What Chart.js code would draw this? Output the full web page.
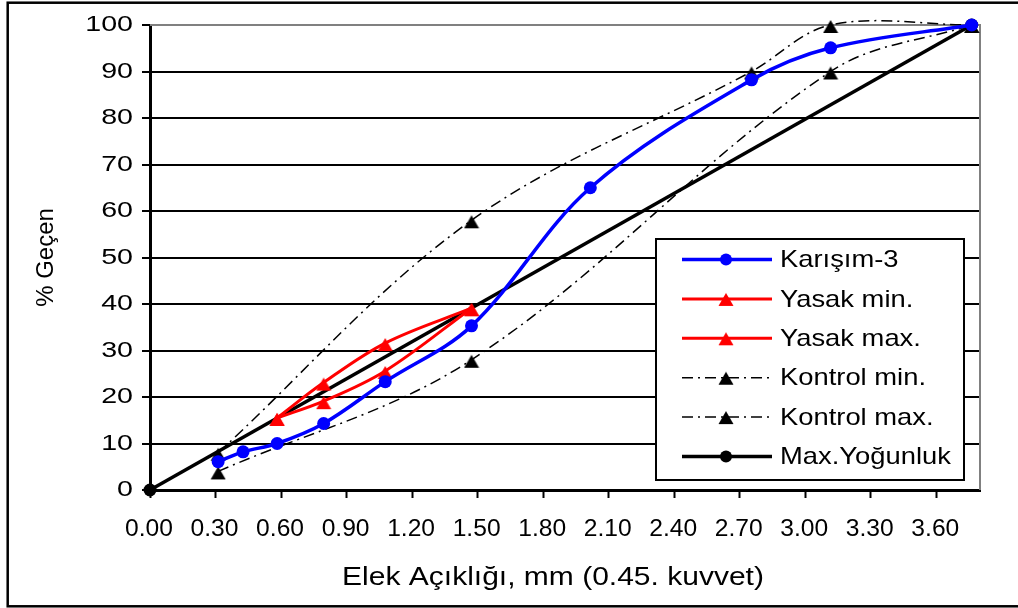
<!DOCTYPE html>
<html>
<head>
<meta charset="utf-8">
<script src="https://cdn.jsdelivr.net/npm/chart.js@4.4.1/dist/chart.umd.min.js"></script>
<style>
  html, body { margin: 0; padding: 0; background: #ffffff; }
  #wrap { width: 1018px; height: 608px; position: relative; }
</style>
</head>
<body>
<div id="wrap"><canvas id="c" width="1018" height="608"></canvas></div>
<script>
// Sieve openings on the 0.45-power scale and percent passing
const karisimX = [0.312, 0.426, 0.582, 0.795, 1.077, 1.472, 2.016, 2.754, 3.116, 3.762];
const karisim3 = [6.1, 8.2, 10.0, 14.3, 23.3, 35.3, 65.0, 88.2, 95.1, 100];

const yasakX = [0.582, 0.795, 1.077, 1.472];
const yasakMin = [15.5, 19.1, 25.6, 39.1];
const yasakMax = [15.5, 23.1, 31.6, 39.1];

const kontrolMinX = [0.312, 1.472, 3.116, 3.762];
const kontrolMin = [4, 28, 90, 100];
const kontrolMaxX = [0.312, 1.472, 2.754, 3.116, 3.762];
const kontrolMax = [8, 58, 90, 100, 100];

const maxYogunlukX = [0, 3.762];
const maxYogunluk = [0, 100];

const xTicks = [0, 0.3, 0.6, 0.9, 1.2, 1.5, 1.8, 2.1, 2.4, 2.7, 3.0, 3.3, 3.6];
const yTicks = [0, 10, 20, 30, 40, 50, 60, 70, 80, 90, 100];

const xTitle = 'Elek Açıklığı, mm (0.45. kuvvet)';
const yTitle = '% Geçen';

const FONT = '"Liberation Sans", Arial, sans-serif';
const BLUE = '#0000ff';
const RED = '#ff0000';
const BLACK = '#000000';
const DASHDOT = [11, 5, 2, 5];

function pts(xs, ys) { return xs.map((x, i) => ({ x: x, y: ys[i] })); }

// Triangle marker sprite, sitting a little low in its box
function triangleSprite(color) {
  const c = document.createElement('canvas');
  c.width = 16; c.height = 18;
  const g = c.getContext('2d');
  g.fillStyle = color;
  g.beginPath();
  g.moveTo(8, 4);
  g.lineTo(15.5, 17);
  g.lineTo(0.5, 17);
  g.closePath();
  g.fill();
  return c;
}
const redTri = triangleSprite(RED);
const blackTri = triangleSprite(BLACK);

const datasets = [
  { label: 'Karışım-3', data: pts(karisimX, karisim3), borderColor: BLUE, borderWidth: 3.5,
    pointStyle: 'circle', pointRadius: 6.5, pointBackgroundColor: BLUE, pointBorderWidth: 0,
    tension: 0.35, marker: 'circle', dash: [] },
  { label: 'Yasak min.', data: pts(yasakX, yasakMin), borderColor: RED, borderWidth: 3,
    pointStyle: redTri, pointBackgroundColor: RED, tension: 0.35, marker: 'triangle', dash: [] },
  { label: 'Yasak max.', data: pts(yasakX, yasakMax), borderColor: RED, borderWidth: 3,
    pointStyle: redTri, pointBackgroundColor: RED, tension: 0.35, marker: 'triangle', dash: [] },
  { label: 'Kontrol min.', data: pts(kontrolMinX, kontrolMin), borderColor: BLACK, borderWidth: 1.5,
    borderDash: DASHDOT, pointStyle: blackTri, pointBackgroundColor: BLACK, tension: 0.35,
    marker: 'triangle', dash: DASHDOT },
  { label: 'Kontrol max.', data: pts(kontrolMaxX, kontrolMax), borderColor: BLACK, borderWidth: 1.5,
    borderDash: DASHDOT, pointStyle: blackTri, pointBackgroundColor: BLACK, tension: 0.35,
    marker: 'triangle', dash: DASHDOT },
  { label: 'Max.Yoğunluk', data: pts(maxYogunlukX, maxYogunluk), borderColor: BLACK, borderWidth: 3.5,
    pointStyle: 'circle', pointRadius: 6.5, pointBackgroundColor: BLACK, pointBorderWidth: 0,
    tension: 0, marker: 'circle', dash: [] }
];
datasets.forEach(d => { d.clip = false; d.fill = false; d.pointHoverRadius = d.pointRadius; });

// Wraps a scale's text drawing with a horizontal stretch about an anchor x
function styleText(scale, method, sx, anchorFn, shift) {
  const orig = scale[method];
  scale[method] = function () {
    const c = this.ctx;
    c.save();
    const ax = anchorFn(this);
    c.translate(ax + (shift || 0), 0);
    c.scale(sx, 1);
    c.translate(-ax, 0);
    orig.apply(this, arguments);
    c.restore();
  };
}

const decor = {
  id: 'decor',
  afterUpdate(chart) {
    const x = chart.scales.x, y = chart.scales.y;
    if (!x._styled) {
      styleText(x, 'drawTitle', 1.2, s => (s.left + s.right) / 2, -12);
      x._styled = true;
    }
    if (!y._styled) {
      styleText(y, 'drawLabels', 1.3, s => s.right - 8 - 9, 0);
      y._styled = true;
    }
  },
  beforeDatasetsDraw(chart) {
    const { ctx, chartArea: a } = chart;
    ctx.save();
    ctx.strokeStyle = '#808080';
    ctx.lineWidth = 2;
    ctx.beginPath();
    ctx.moveTo(a.left, a.top);
    ctx.lineTo(a.right, a.top);
    ctx.lineTo(a.right, a.bottom);
    ctx.stroke();
    ctx.restore();
  },
  afterDraw(chart) {
    const { ctx, chartArea: a } = chart;
    const xs = chart.scales.x;
    ctx.save();
    // x tick labels, slightly stretched
    ctx.font = '23px ' + FONT;
    ctx.fillStyle = BLACK;
    ctx.textAlign = 'center';
    ctx.textBaseline = 'alphabetic';
    xTicks.forEach(v => {
      const px = xs.getPixelForValue(v);
      ctx.save();
      ctx.translate(px - 1, a.bottom + 46);
      ctx.scale(1.07, 1);
      ctx.fillText(v.toFixed(2), 0, 0);
      ctx.restore();
    });
    // legend box
    const bx = a.right - 324, by = a.top + 214, bw = 308, bh = 241;
    ctx.fillStyle = '#ffffff';
    ctx.fillRect(bx, by, bw, bh);
    ctx.strokeStyle = BLACK;
    ctx.lineWidth = 2;
    ctx.strokeRect(bx, by, bw, bh);
    chart.data.datasets.forEach((d, i) => {
      const ry = by + 20.5 + i * 39.4;
      ctx.save();
      ctx.strokeStyle = d.borderColor;
      ctx.lineWidth = d.borderWidth;
      ctx.setLineDash(d.dash);
      ctx.beginPath();
      ctx.moveTo(bx + 26, ry);
      ctx.lineTo(bx + 116, ry);
      ctx.stroke();
      ctx.restore();
      const mx = bx + 70;
      ctx.fillStyle = d.pointBackgroundColor;
      if (d.marker === 'circle') {
        ctx.beginPath();
        ctx.arc(mx, ry, 6, 0, Math.PI * 2);
        ctx.fill();
      } else {
        ctx.drawImage(d.pointStyle, mx - 8, ry - 10);
      }
      ctx.save();
      const tx = bx + 124;
      ctx.translate(tx, ry + 1);
      ctx.scale(1.14, 1);
      ctx.font = '24px ' + FONT;
      ctx.textBaseline = 'middle';
      ctx.textAlign = 'left';
      ctx.fillStyle = BLACK;
      ctx.fillText(d.label, 0, 0);
      ctx.restore();
    });
    // outer frame
    ctx.strokeStyle = BLACK;
    ctx.lineWidth = 2.5;
    ctx.strokeRect(7.7, 2.7, 1030, 603.6);
    ctx.restore();
  }
};

new Chart(document.getElementById('c'), {
  type: 'line',
  data: { datasets: datasets },
  plugins: [decor],
  options: {
    responsive: false,
    animation: false,
    events: [],
    layout: { padding: { left: 7, top: 25, right: 38, bottom: 0 } },
    plugins: { legend: { display: false }, tooltip: { enabled: false } },
    elements: { line: { capBezierPoints: false } },
    scales: {
      x: {
        type: 'linear', min: 0, max: 3.8,
        afterBuildTicks: s => { s.ticks = xTicks.map(v => ({ value: v })); },
        afterFit: s => { s.height = 118; },
        ticks: { display: false },
        grid: { drawOnChartArea: false, drawTicks: true, tickLength: 8, tickColor: BLACK, tickWidth: 2 },
        border: { color: BLACK, width: 3 },
        title: { display: true, text: xTitle, font: { family: FONT, size: 25 }, color: BLACK,
                 padding: { top: 0, bottom: 15 } }
      },
      y: {
        type: 'linear', min: 0, max: 100,
        afterBuildTicks: s => { s.ticks = yTicks.map(v => ({ value: v })); },
        afterFit: s => { s.width = 143; },
        ticks: { font: { family: FONT, size: 22 }, color: BLACK, padding: 9, autoSkip: false },
        grid: { color: c => (c.tick && c.tick.value === 100) ? 'rgba(0,0,0,0)' : BLACK,
                lineWidth: 2, tickLength: 8, tickColor: BLACK, tickWidth: 2 },
        border: { color: BLACK, width: 3 },
        title: { display: true, text: yTitle, font: { family: FONT, size: 24 }, color: BLACK,
                 padding: { top: 25, bottom: 0 } }
      }
    }
  }
});
</script>
</body>
</html>
